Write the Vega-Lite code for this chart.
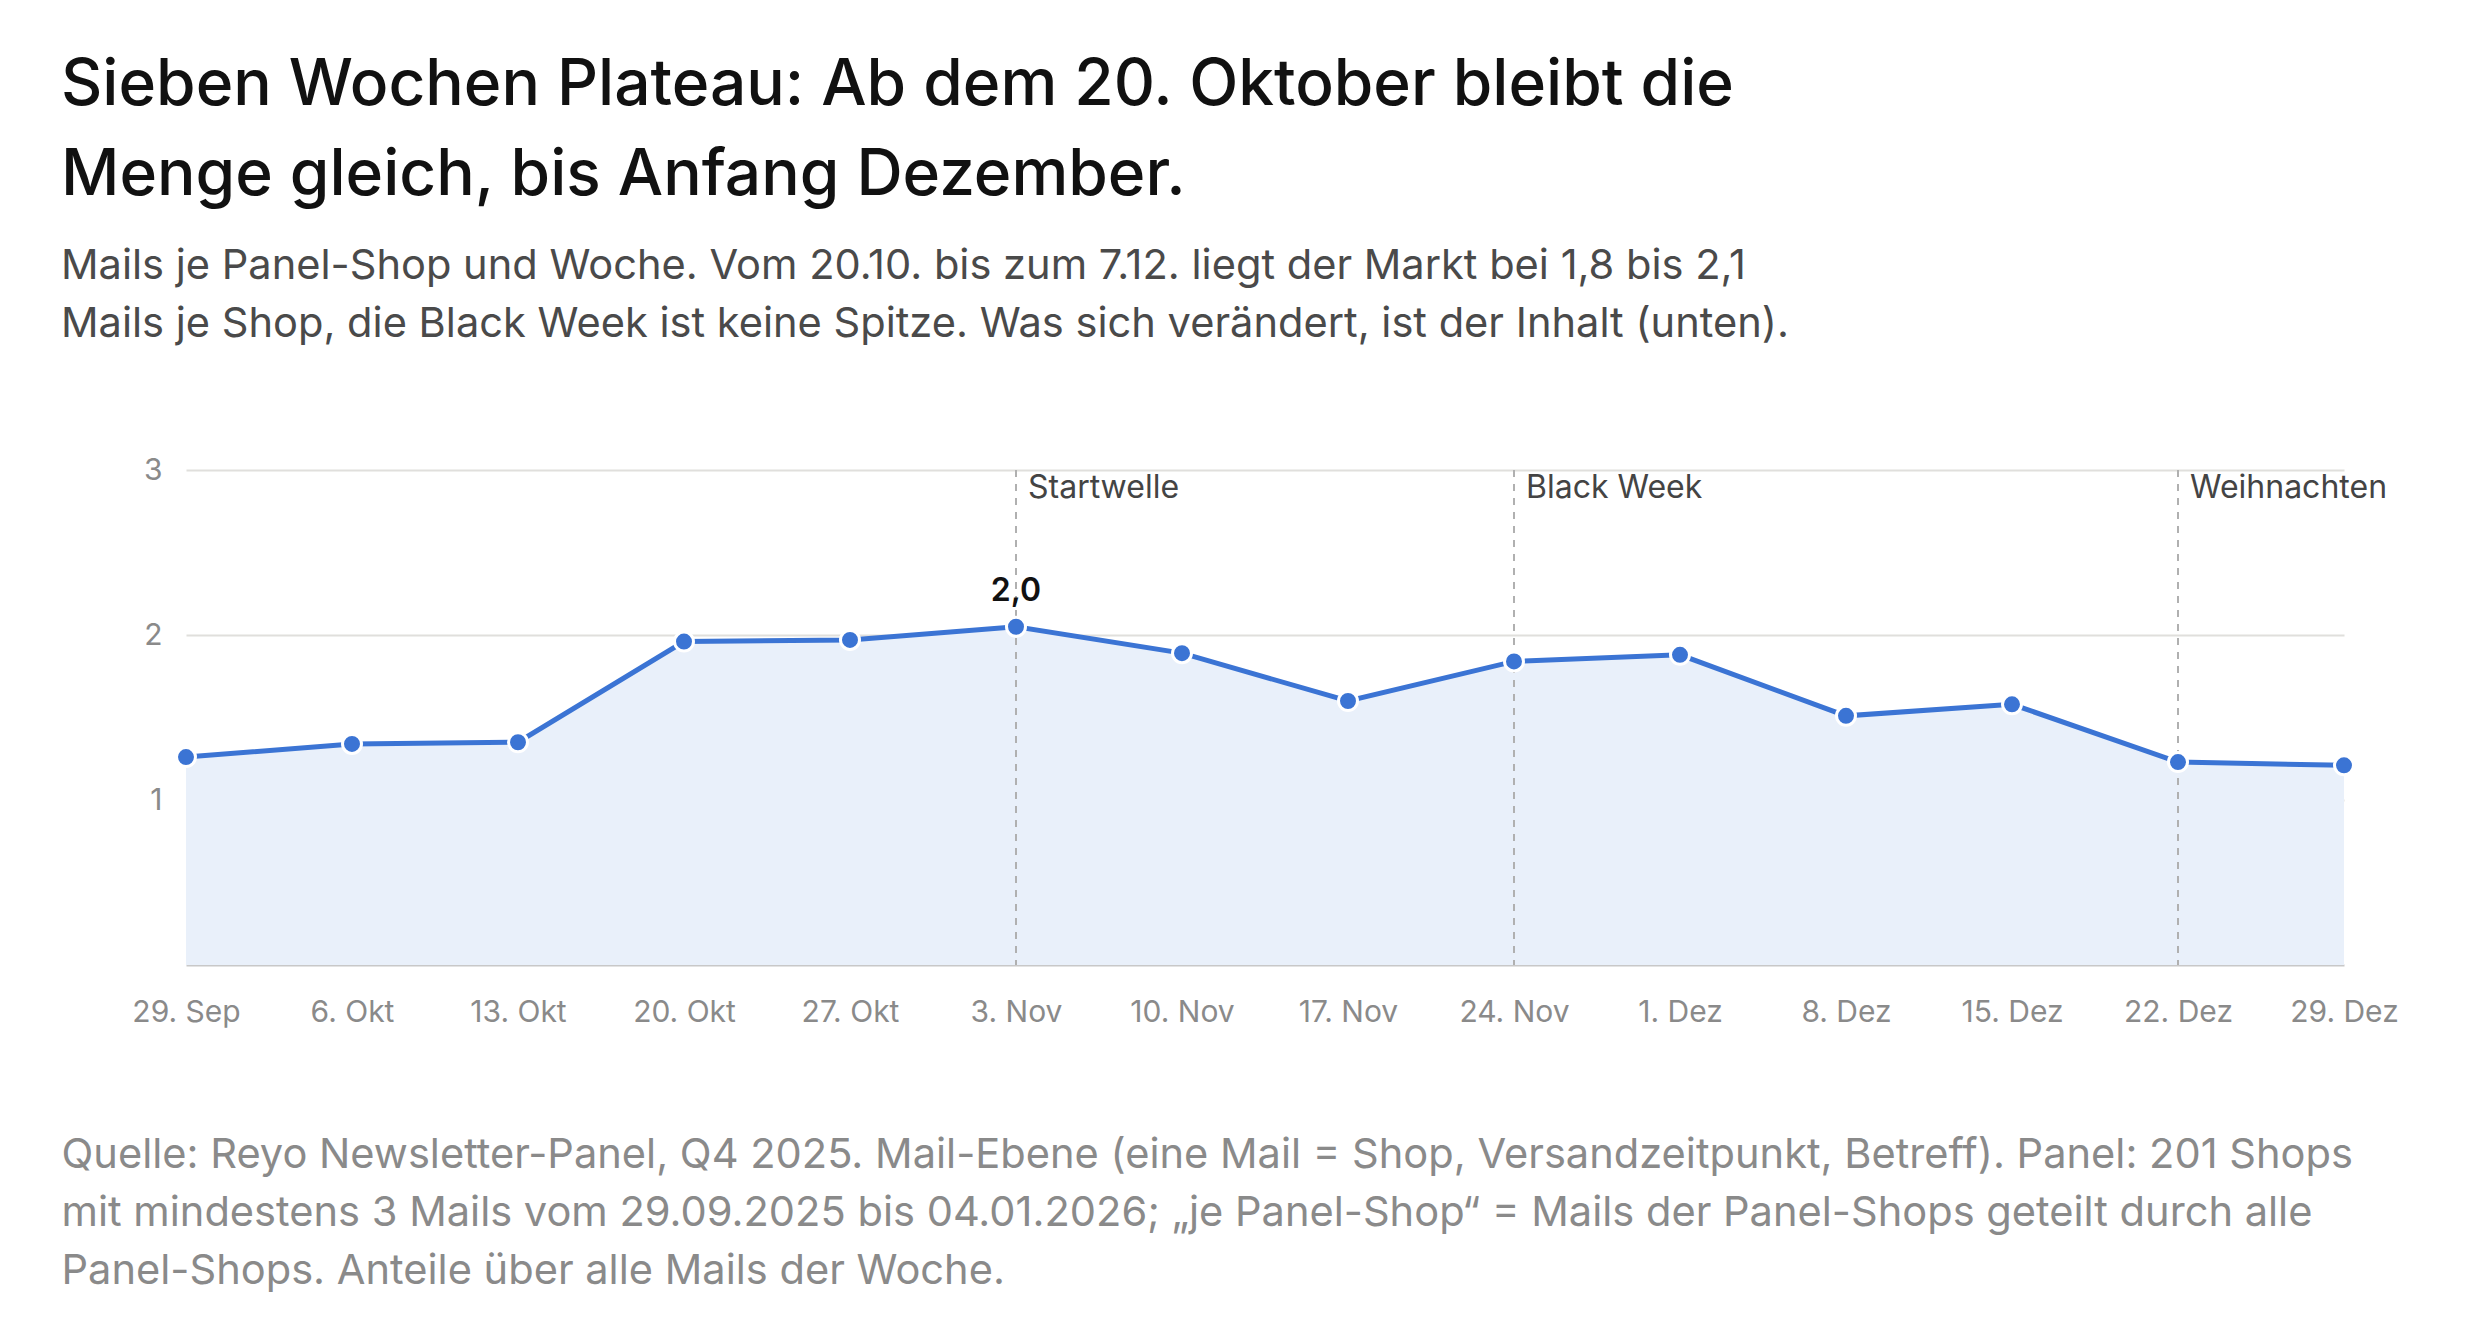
{
  "$schema": "https://vega.github.io/schema/vega-lite/v6.json",
  "width": 2158,
  "height": 495,
  "autosize": {"type": "none"},
  "padding": {"left": 186, "top": 470, "right": 132, "bottom": 363},
  "background": "white",
  "title": {
    "text": [
      "Sieben Wochen Plateau: Ab dem 20. Oktober bleibt die",
      "Menge gleich, bis Anfang Dezember."
    ],
    "subtitle": [
      "Mails je Panel-Shop und Woche. Vom 20.10. bis zum 7.12. liegt der Markt bei 1,8 bis 2,1",
      "Mails je Shop, die Black Week ist keine Spitze. Was sich verändert, ist der Inhalt (unten)."
    ],
    "anchor": "start",
    "frame": "group",
    "dx": -125,
    "offset": 109,
    "font": "Inter",
    "fontSize": 64,
    "fontWeight": 500,
    "lineHeight": 90,
    "color": "#111111",
    "subtitleFont": "Inter",
    "subtitleFontSize": 41.6,
    "subtitleLineHeight": 58,
    "subtitleColor": "#4a4a4a",
    "subtitlePadding": 38
  },
  "data": {
    "values": [
      {"woche": "2025-09-29", "mails": 1.26},
      {"woche": "2025-10-06", "mails": 1.34},
      {"woche": "2025-10-13", "mails": 1.35},
      {"woche": "2025-10-20", "mails": 1.96},
      {"woche": "2025-10-27", "mails": 1.97},
      {"woche": "2025-11-03", "mails": 2.05, "ereignis": "Startwelle", "wert": "2,0"},
      {"woche": "2025-11-10", "mails": 1.89},
      {"woche": "2025-11-17", "mails": 1.6},
      {"woche": "2025-11-24", "mails": 1.84, "ereignis": "Black Week"},
      {"woche": "2025-12-01", "mails": 1.88},
      {"woche": "2025-12-08", "mails": 1.51},
      {"woche": "2025-12-15", "mails": 1.58},
      {"woche": "2025-12-22", "mails": 1.23, "ereignis": "Weihnachten"},
      {"woche": "2025-12-29", "mails": 1.21}
    ]
  },
  "encoding": {
    "x": {
      "field": "woche",
      "type": "temporal",
      "scale": {"type": "utc"},
      "axis": {
        "values": [
          {"year": 2025, "month": 9, "date": 29, "utc": true},
          {"year": 2025, "month": 10, "date": 6, "utc": true},
          {"year": 2025, "month": 10, "date": 13, "utc": true},
          {"year": 2025, "month": 10, "date": 20, "utc": true},
          {"year": 2025, "month": 10, "date": 27, "utc": true},
          {"year": 2025, "month": 11, "date": 3, "utc": true},
          {"year": 2025, "month": 11, "date": 10, "utc": true},
          {"year": 2025, "month": 11, "date": 17, "utc": true},
          {"year": 2025, "month": 11, "date": 24, "utc": true},
          {"year": 2025, "month": 12, "date": 1, "utc": true},
          {"year": 2025, "month": 12, "date": 8, "utc": true},
          {"year": 2025, "month": 12, "date": 15, "utc": true},
          {"year": 2025, "month": 12, "date": 22, "utc": true},
          {"year": 2025, "month": 12, "date": 29, "utc": true}
        ],
        "labelExpr": "utcdate(datum.value) + '. ' + ['Jan','Feb','Mär','Apr','Mai','Jun','Jul','Aug','Sep','Okt','Nov','Dez'][utcmonth(datum.value)]",
        "grid": false,
        "ticks": false,
        "domainColor": "#c8c8c8",
        "domainWidth": 2,
        "labelFont": "Inter",
        "labelFontSize": 30,
        "labelColor": "#8a8a8a",
        "labelPadding": 32,
        "labelFlush": false,
        "title": [
          "Quelle: Reyo Newsletter-Panel, Q4 2025. Mail-Ebene (eine Mail = Shop, Versandzeitpunkt, Betreff). Panel: 201 Shops",
          "mit mindestens 3 Mails vom 29.09.2025 bis 04.01.2026; „je Panel-Shop“ = Mails der Panel-Shops geteilt durch alle",
          "Panel-Shops. Anteile über alle Mails der Woche."
        ],
        "titleFont": "Inter",
        "titleFontSize": 41.6,
        "titleFontWeight": "normal",
        "titleColor": "#8a8a8a",
        "titleLineHeight": 58,
        "titleAnchor": "start",
        "titleAlign": "left",
        "titleBaseline": "alphabetic",
        "titleX": -125,
        "titleY": 202
      }
    }
  },
  "layer": [
    {
      "mark": {"type": "area", "color": "#e9f0fa"},
      "encoding": {
        "y": {
          "field": "mails",
          "type": "quantitative",
          "scale": {"domain": [0, 3]},
          "axis": {
            "values": [1, 2, 3],
            "format": "d",
            "title": null,
            "domain": false,
            "ticks": false,
            "gridColor": "#e0dfdc",
            "gridWidth": 2,
            "labelFont": "Inter",
            "labelFontSize": 30,
            "labelColor": "#8a8a8a",
            "labelPadding": 24
          }
        }
      }
    },
    {
      "transform": [{"filter": "datum.ereignis != null"}],
      "mark": {"type": "rule", "color": "#b0b0b0", "strokeWidth": 2, "strokeDash": [7, 7]},
      "encoding": {
        "y": {"datum": 3, "type": "quantitative"},
        "y2": {"datum": 0}
      }
    },
    {
      "transform": [{"filter": "datum.ereignis != null"}],
      "mark": {
        "type": "text",
        "align": "left",
        "baseline": "middle",
        "dx": 12,
        "dy": 18,
        "font": "Inter",
        "fontSize": 32,
        "color": "#444444"
      },
      "encoding": {
        "y": {"datum": 3, "type": "quantitative"},
        "text": {"field": "ereignis"}
      }
    },
    {
      "mark": {"type": "line", "color": "#3b74d4", "strokeWidth": 5},
      "encoding": {"y": {"field": "mails", "type": "quantitative"}}
    },
    {
      "mark": {"type": "point", "filled": true, "color": "#3b74d4", "size": 360, "stroke": "white", "strokeWidth": 3, "opacity": 1},
      "encoding": {"y": {"field": "mails", "type": "quantitative"}}
    },
    {
      "transform": [{"filter": "datum.wert != null"}],
      "mark": {
        "type": "text",
        "baseline": "bottom",
        "dy": -19,
        "font": "Inter",
        "fontSize": 32,
        "fontWeight": 600,
        "color": "#111111"
      },
      "encoding": {
        "y": {"field": "mails", "type": "quantitative"},
        "text": {"field": "wert"}
      }
    }
  ],
  "config": {
    "view": {"stroke": null},
    "axis": {"labelFont": "Inter", "titleFont": "Inter"}
  }
}
